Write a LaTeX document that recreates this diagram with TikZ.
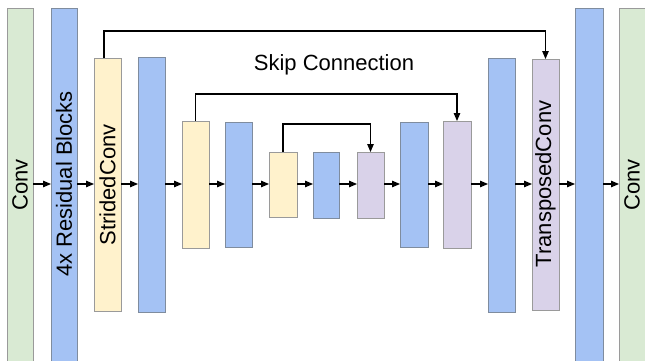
\documentclass[tikz,border=0pt]{standalone}
\usepackage{fontspec}
\setmainfont{Liberation Sans}
\usetikzlibrary{arrows.meta}

\definecolor{convgreen}{HTML}{D9EAD3}
\definecolor{resblue}{HTML}{A4C2F4}
\definecolor{downyellow}{HTML}{FFF2CC}
\definecolor{uppurple}{HTML}{D9D2E9}
\definecolor{edgegray}{HTML}{9A9A9A}
\definecolor{edgeblue}{HTML}{7F8C9E}

\tikzset{
  layer/.style={draw=edgegray, line width=0.9pt, minimum width=27pt, inner sep=0pt, outer sep=0pt},
  convbox/.style={layer, fill=convgreen},
  resbox/.style={layer, fill=resblue, draw=edgeblue},
  downbox/.style={layer, fill=downyellow},
  upbox/.style={layer, fill=uppurple},
  vlabel/.style={rotate=90, font=\fontsize{22}{24}\selectfont},
  flow/.style={line width=1.1pt, -{Triangle[length=8pt,width=6.5pt]}},
  skipline/.style={line width=1.1pt, -{Triangle[length=8pt,width=6.5pt]}},
}

\begin{document}
\begin{tikzpicture}[x=1pt,y=-1pt]
  \useasboundingbox (0,0) rectangle (645,360);
  \clip (0,0) rectangle (645,360);

  % vertical axis of the data flow
  \coordinate (axis) at (0,184);

  % encoder side
  \node[convbox, minimum width=26pt, minimum height=364pt] (conv1) at (20,190) {};
  \node[vlabel] at (20,185) {Conv};
  \node[resbox, minimum width=26pt, minimum height=364pt] (res1) at (64,190) {};
  \node[vlabel] at (64,184) {4x Residual Blocks};
  \node[downbox, minimum height=253pt] (sc1) at (107.5,184.5) {};
  \node[vlabel] at (107.5,185) {StridedConv};
  \node[resbox, minimum height=255pt] (b2) at (151.5,184.5) {};
  \node[downbox, minimum height=127pt] (y2) at (195.5,184.5) {};
  \node[resbox, minimum height=125pt] (b3) at (238.5,184.5) {};
  \node[downbox, minimum width=28pt, minimum height=65pt] (y3) at (283,184.5) {};

  % bottleneck
  \node[resbox, minimum width=26pt, minimum height=66pt] (b4) at (326,185) {};

  % decoder side
  \node[upbox, minimum height=66pt] (p1) at (370.5,185) {};
  \node[resbox, minimum width=28pt, minimum height=125pt] (b5) at (414,184.5) {};
  \node[upbox, minimum width=28pt, minimum height=127pt] (p2) at (457,184.5) {};
  \node[resbox, minimum height=254pt] (b6) at (501.5,185) {};
  \node[upbox, minimum height=251pt] (tc) at (545.5,184.5) {};
  \node[vlabel] at (545.5,184) {TransposedConv};
  \node[resbox, minimum width=28pt, minimum height=364pt] (res2) at (589,190) {};
  \node[convbox, minimum width=36pt, minimum height=364pt] (conv2) at (637,190) {};
  \node[vlabel] at (632,185) {Conv};

  % main data flow
  \foreach \a/\b in {conv1/res1, res1/sc1, sc1/b2, b2/y2, y2/b3, b3/y3, y3/b4,
                     b4/p1, p1/b5, b5/p2, p2/b6, b6/tc, tc/res2, res2/conv2}
    \draw[flow] (\a.east |- axis) -- (\b.west |- axis);

  % skip connections
  \draw[skipline] ([xshift=-3.5pt]sc1.north) -- ++(0,-27) -| (tc.north);
  \draw[skipline] (y2.north) -- ++(0,-27) -| (p2.north);
  \draw[skipline] (y3.north) -- ++(0,-28) -| (p1.north);

  \node[anchor=base, font=\fontsize{22}{24}\selectfont] (skiplabel) at (334,70) {Skip Connection};
\end{tikzpicture}
\end{document}
